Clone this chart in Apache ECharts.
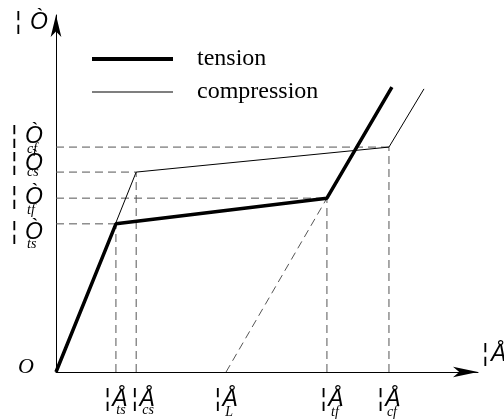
<!DOCTYPE html>
<html><head><meta charset="utf-8">
<script src="https://cdn.jsdelivr.net/npm/echarts@6/dist/echarts.min.js"></script>
<style>html,body{margin:0;padding:0;background:#fff}#c{width:504px;height:419px}</style>
</head><body><div id="c"></div>
<script>
// ---- data (arbitrary strain / stress units) ----
const strainNames = ['ts', 'cs', 'L', 'tf', 'cf'];
const strainValues = [14.2, 19.0, 40.3, 64.2, 78.9];
const stressNames = ['cf', 'cs', 'tf', 'ts'];
const stressValues = [63.0, 56.0, 48.7, 41.5];
const tensionX = [0, 14.2, 64.2, 79.6];
const tensionY = [0, 41.5, 48.7, 79.8];
const compressionX = [0, 19.0, 78.9, 87.2];
const compressionY = [0, 56.0, 63.0, 79.3];
const unloadX = [40.3, 64.2];
const unloadY = [0, 48.7];
const sigmaBar = '¦', sigmaLetter = 'Ò';
const epsBar = '¦', epsLetter = 'Å';
const originText = 'O';
const seriesNames = ['tension', 'compression'];

const sv = n => strainValues[strainNames.indexOf(n)];
const yv = n => stressValues[stressNames.indexOf(n)];
const zip = (a, b) => a.map((v, i) => [v, b[i]]);

const dashStyle = { color: '#555', width: 1, type: [8, 5] };
const guides = [];
stressNames.forEach(n => {
  guides.push([[0, yv(n)], [sv(n), yv(n)]]);
  guides.push([[sv(n), 0], [sv(n), yv(n)]]);
});

const series = [];
guides.forEach(g => series.push({
  type: 'line', data: g, symbol: 'none', silent: true, lineStyle: dashStyle, z: 1
}));
series.push({ type: 'line', data: zip(unloadX, unloadY), symbol: 'none', silent: true, lineStyle: dashStyle, z: 1 });
series.push({ name: seriesNames[1], type: 'line', data: zip(compressionX, compressionY), symbol: 'none',
  lineStyle: { color: '#000', width: 1 }, itemStyle: { color: '#000' }, z: 3 });
series.push({ name: seriesNames[0], type: 'line', data: zip(tensionX, tensionY), symbol: 'none',
  lineStyle: { color: '#000', width: 3.5 }, itemStyle: { color: '#000' }, z: 4 });

const chart = echarts.init(document.getElementById('c'), null, { renderer: 'canvas' });
const axisCommon = {
  type: 'value', min: 0, max: 100,
  axisLine: { show: true, onZero: false, symbol: ['none', 'arrow'], symbolSize: [8, 25],
    lineStyle: { color: '#000', width: 1 } },
  axisTick: { show: false }, axisLabel: { show: false }, splitLine: { show: false }
};
const legendText = { fontFamily: 'Liberation Serif', fontSize: 24, color: '#000', padding: [0, 0, 0, 19] };
chart.setOption({
  animation: false,
  backgroundColor: '#fff',
  grid: { left: 56, right: 26, top: 15, bottom: 47 },
  xAxis: Object.assign({}, axisCommon),
  yAxis: Object.assign({}, axisCommon, { axisLine: Object.assign({}, axisCommon.axisLine, { symbolSize: [8, 22] }) }),
  legend: [
    { data: [seriesNames[0]], left: 92, top: 47, padding: 0, icon: 'rect', itemWidth: 81, itemHeight: 4,
      textStyle: legendText, selectedMode: false },
    { data: [seriesNames[1]], left: 92, top: 80, padding: 0, icon: 'rect', itemWidth: 81, itemHeight: 1,
      textStyle: legendText, selectedMode: false }
  ],
  series: series
});

// ---- text annotations, anchored to the axis values ----
const px = v => chart.convertToPixel({ gridIndex: 0 }, [v, 0])[0];
const py = v => chart.convertToPixel({ gridIndex: 0 }, [0, v])[1];
const mainStyle = { fontSize: 23, fontStyle: 'italic', fontFamily: 'Liberation Sans', fill: '#000' };
const subStyle = { fontSize: 14, fontStyle: 'italic', fontFamily: 'Liberation Serif', fill: '#000' };
const txt = (text, x, y, st, align, valign, rich) => ({
  type: 'text', x: x, y: y, silent: true,
  style: Object.assign({ text: text, align: align, verticalAlign: valign,
    textAlign: align, textVerticalAlign: valign, rich: rich }, st)
});
const symRich = gap => ({
  b: Object.assign({}, mainStyle, { fill: '#000', color: '#000' }),
  l: Object.assign({}, mainStyle, { fill: '#000', color: '#000', padding: [0, 0, 0, gap] })
});
const sym = (bar, letter) => '{b|' + bar + '}{l|' + letter + '}';
const g = [];
// stress labels on the left
const sigOff = { cf: [-10, 2], cs: [-8, 0], tf: [-1, 12], ts: [9, 20] };
stressNames.forEach(n => {
  const y = py(yv(n));
  g.push(txt(sym(sigmaBar, sigmaLetter), 11, y + sigOff[n][0], mainStyle, 'left', 'middle', symRich(8)));
  g.push(txt(n, 27, y + sigOff[n][1], subStyle, 'left', 'middle'));
});
// strain labels below
const epsOff = { ts: [0, 5, 410], cs: [7, 12, 410], L: [0, 3, 412], tf: [5, 8, 412], cf: [0, 3, 412] };
strainNames.forEach(n => {
  const x = px(sv(n));
  g.push(txt(sym(epsBar, epsLetter), x + epsOff[n][0], 400, mainStyle, 'center', 'middle', symRich(2)));
  g.push(txt(n, x + epsOff[n][1], epsOff[n][2], subStyle, 'center', 'middle'));
});
// axis titles and origin
g.push(txt(sym(sigmaBar, sigmaLetter), 15, 23, mainStyle, 'left', 'middle', symRich(9)));
g.push(txt(sym(epsBar, epsLetter), 482, 355, mainStyle, 'left', 'middle', symRich(3)));
g.push(txt(originText, 26, 367, { fontSize: 22, fontStyle: 'italic', fontFamily: 'Liberation Serif', fill: '#000' }, 'center', 'middle'));
chart.setOption({ graphic: { elements: g } });
</script></body></html>
